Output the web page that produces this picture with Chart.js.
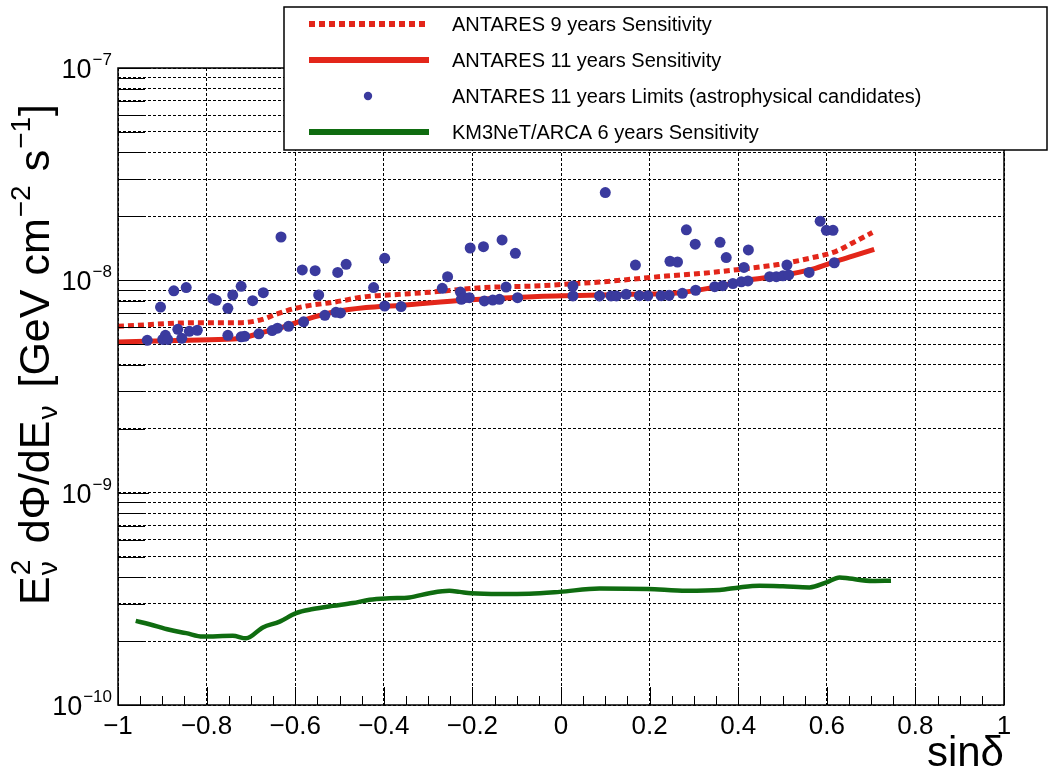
<!DOCTYPE html>
<html>
<head>
<meta charset="utf-8">
<script src="https://cdn.jsdelivr.net/npm/chart.js@4/dist/chart.umd.min.js"></script>
<style>
  html, body { margin: 0; padding: 0; background: #fff; }
  #wrap { position: relative; width: 1053px; height: 771px; }
</style>
</head>
<body>
<div id="wrap"><canvas id="sensChart"></canvas></div>
<script>
// ANTARES 9 years sensitivity (dotted red)
const sens9X = [-1.0, -0.816, -0.72, -0.674, -0.643, -0.617, -0.575, -0.516, -0.44, -0.365, -0.29, -0.177, -0.064, 0.087, 0.237, 0.313, 0.418, 0.493, 0.568, 0.621, 0.658, 0.703];
const sens9Y = [6.07e-9, 6.32e-9, 6.32e-9, 6.55e-9, 6.92e-9, 7.22e-9, 7.57e-9, 7.87e-9, 8.38e-9, 8.59e-9, 8.81e-9, 9.24e-9, 9.40e-9, 9.82e-9, 1.047e-8, 1.076e-8, 1.135e-8, 1.19e-8, 1.28e-8, 1.37e-8, 1.50e-8, 1.68e-8];

// ANTARES 11 years sensitivity (solid red)
const sens11X = [-1.0, -0.816, -0.726, -0.681, -0.62, -0.575, -0.516, -0.44, -0.365, -0.214, -0.064, 0.161, 0.268, 0.342, 0.418, 0.493, 0.568, 0.621, 0.658, 0.707];
const sens11Y = [5.13e-9, 5.24e-9, 5.32e-9, 5.63e-9, 6.09e-9, 6.55e-9, 7.07e-9, 7.44e-9, 7.62e-9, 8.08e-9, 8.38e-9, 8.59e-9, 8.75e-9, 9.24e-9, 1.0e-8, 1.05e-8, 1.13e-8, 1.23e-8, 1.30e-8, 1.40e-8];

// ANTARES 11 years limits for the astrophysical candidates
const srcX = [-0.934, -0.904, -0.899, -0.893, -0.888, -0.874, -0.865, -0.856, -0.846, -0.839,
              -0.821, -0.786, -0.778, -0.752, -0.752, -0.741, -0.722, -0.722, -0.714, -0.696,
              -0.682, -0.672, -0.652, -0.640, -0.632, -0.615, -0.584, -0.581, -0.555, -0.547,
              -0.533, -0.508, -0.504, -0.498, -0.485, -0.423, -0.398, -0.398, -0.361, -0.268,
              -0.256, -0.227, -0.225, -0.218, -0.207, -0.205, -0.175, -0.173, -0.154, -0.139,
              -0.133, -0.124, -0.103, -0.098, 0.027, 0.027, 0.087, 0.100, 0.113, 0.125,
              0.147, 0.168, 0.177, 0.196, 0.226, 0.244, 0.246, 0.263, 0.274, 0.283,
              0.303, 0.304, 0.347, 0.359, 0.365, 0.373, 0.388, 0.407, 0.413, 0.422,
              0.423, 0.471, 0.486, 0.501, 0.510, 0.514, 0.560, 0.585, 0.599, 0.614, 0.617];
const srcY = [5.22e-9, 7.48e-9, 5.27e-9, 5.51e-9, 5.27e-9, 8.93e-9, 5.88e-9, 5.33e-9, 9.24e-9, 5.75e-9,
              5.82e-9, 8.21e-9, 8.05e-9, 7.38e-9, 5.51e-9, 8.52e-9, 9.37e-9, 5.42e-9, 5.45e-9, 8.02e-9,
              5.60e-9, 8.75e-9, 5.80e-9, 5.95e-9, 1.60e-8, 6.07e-9, 1.12e-8, 6.38e-9, 1.11e-8, 8.53e-9,
              6.84e-9, 7.07e-9, 1.09e-8, 7.02e-9, 1.19e-8, 9.24e-9, 1.27e-8, 7.57e-9, 7.52e-9, 9.17e-9,
              1.04e-8, 8.81e-9, 8.14e-9, 8.29e-9, 8.29e-9, 1.42e-8, 1.44e-8, 8.00e-9, 8.07e-9, 8.14e-9,
              1.55e-8, 9.29e-9, 1.34e-8, 8.29e-9, 9.40e-9, 8.44e-9, 8.44e-9, 2.59e-8, 8.44e-9, 8.44e-9,
              8.59e-9, 1.18e-8, 8.47e-9, 8.47e-9, 8.47e-9, 8.50e-9, 1.23e-8, 1.22e-8, 8.69e-9, 1.73e-8,
              1.48e-8, 8.98e-9, 9.33e-9, 1.51e-8, 9.44e-9, 1.28e-8, 9.66e-9, 9.84e-9, 1.15e-8, 9.93e-9,
              1.39e-8, 1.04e-8, 1.04e-8, 1.05e-8, 1.18e-8, 1.06e-8, 1.09e-8, 1.90e-8, 1.72e-8, 1.72e-8, 1.21e-8];

// KM3NeT/ARCA 6 years sensitivity (green)
const arcaX = [-0.960, -0.929, -0.884, -0.846, -0.809, -0.741, -0.711, -0.673, -0.635, -0.598,
               -0.560, -0.515, -0.470, -0.432, -0.387, -0.342, -0.297, -0.252, -0.229, -0.203,
               -0.139, -0.071, -0.003, 0.087, 0.196, 0.283, 0.358, 0.403, 0.448, 0.501,
               0.561, 0.599, 0.629, 0.651, 0.704, 0.745];
const arcaY = [2.49e-10, 2.40e-10, 2.26e-10, 2.18e-10, 2.10e-10, 2.12e-10, 2.06e-10, 2.32e-10, 2.47e-10, 2.71e-10,
               2.83e-10, 2.93e-10, 3.02e-10, 3.13e-10, 3.18e-10, 3.21e-10, 3.36e-10, 3.45e-10, 3.41e-10, 3.36e-10,
               3.33e-10, 3.34e-10, 3.41e-10, 3.54e-10, 3.52e-10, 3.45e-10, 3.48e-10, 3.58e-10, 3.64e-10, 3.62e-10,
               3.58e-10, 3.78e-10, 3.99e-10, 3.94e-10, 3.84e-10, 3.85e-10];

// axis ticks
const xTicks = [-1, -0.8, -0.6, -0.4, -0.2, 0, 0.2, 0.4, 0.6, 0.8, 1];
const yDecades = [1e-10, 1e-9, 1e-8, 1e-7];

const RED = '#e3261a';
const BLUE = '#3a3a9e';
const GREEN = '#0f6c10';
const FONT = '"Liberation Sans", Arial, Helvetica, sans-serif';

function toXY(xs, ys) {
    return xs.map((x, i) => ({ x: x, y: ys[i] }));
}

function fmtX(v) {
    if (v === 0) return '0';
    return (v < 0 ? '\u2212' : '') + String(Math.abs(v));
}

// y tick positions: 1..9 x each decade
function logTicks() {
    const out = [];
    for (let d = 0; d < yDecades.length - 1; d++) {
        for (let m = 1; m <= 9; m++) out.push(m * yDecades[d]);
    }
    out.push(yDecades[yDecades.length - 1]);
    return out;
}

// draws a run of text pieces, left to right from x0
function drawRich(ctx, pieces, x0, y0) {
    let x = x0;
    pieces.forEach(p => {
        ctx.font = p.size + 'px ' + FONT;
        const w = ctx.measureText(p.t).width;
        ctx.fillText(p.t, x, y0 + (p.dy || 0));
        if (!p.stack) x += w + (p.gap || 0);
    });
    return x - x0;
}

const rootStyle = {
    id: 'rootStyle',
    afterDatasetsDraw(chart) {
        const { ctx, chartArea: a, scales: { x, y } } = chart;
        ctx.save();
        ctx.strokeStyle = '#000';
        ctx.lineWidth = 1;
        ctx.setLineDash([]);
        ctx.beginPath();
        // x ticks, inside, from the bottom
        for (let i = 0; i <= 40; i++) {
            const v = -1 + i * 0.05;
            const px = Math.round(x.getPixelForValue(v)) + 0.5;
            const len = (i % 4 === 0) ? 18 : 9;
            ctx.moveTo(px, a.bottom);
            ctx.lineTo(px, a.bottom - len);
        }
        // y ticks, inside, from the left
        logTicks().forEach(v => {
            const py = Math.round(y.getPixelForValue(v)) + 0.5;
            const m = Math.round(v / Math.pow(10, Math.floor(Math.log10(v) + 1e-9)));
            const len = m === 1 ? 31 : 27;
            ctx.moveTo(a.left, py);
            ctx.lineTo(a.left + len, py);
        });
        ctx.stroke();

        // frame
        ctx.lineWidth = 1.5;
        ctx.strokeRect(a.left, a.top, a.right - a.left, a.bottom - a.top);

        // x labels
        ctx.fillStyle = '#000';
        ctx.font = '26px ' + FONT;
        ctx.textAlign = 'center';
        ctx.textBaseline = 'alphabetic';
        xTicks.forEach(v => {
            ctx.fillText(fmtX(v), x.getPixelForValue(v), 734);
        });

        // y labels 10^n
        ctx.textAlign = 'left';
        yDecades.forEach(v => {
            const py = y.getPixelForValue(v);
            const ex = '\u2212' + String(-Math.round(Math.log10(v)));
            ctx.font = '17px ' + FONT;
            const ew = ctx.measureText(ex).width;
            ctx.font = '27px ' + FONT;
            const bw = ctx.measureText('10').width;
            const right = a.left - 6;
            ctx.fillText('10', right - ew - bw - 1, py + 10);
            ctx.font = '17px ' + FONT;
            ctx.fillText(ex, right - ew, py - 3);
        });

        // x title
        ctx.font = '42px ' + FONT;
        ctx.textAlign = 'right';
        ctx.fillText('sin\u03b4', a.right, 766);

        // y title, rotated
        ctx.save();
        ctx.translate(49, 605);
        ctx.rotate(-Math.PI / 2);
        ctx.textAlign = 'left';
        drawRich(ctx, [
            { t: 'E', size: 43, gap: 1 },
            { t: '2', size: 28, dy: -19, stack: true },
            { t: '\u03bd', size: 28, dy: 8, gap: 18 },
            { t: 'd\u03a6/dE', size: 43, gap: 1 },
            { t: '\u03bd', size: 28, dy: 8, gap: 18 },
            { t: '[GeV', size: 43, gap: 14 },
            { t: 'cm', size: 43, gap: 1 },
            { t: '\u22122', size: 28, dy: -19, gap: 14 },
            { t: 's', size: 43, gap: 1 },
            { t: '\u22121', size: 28, dy: -19, gap: 1 },
            { t: ']', size: 43 }
        ], 0, 0);
        ctx.restore();
        ctx.restore();
    },
    afterDraw(chart) {
        // legend box over the plot, ROOT style
        const { ctx } = chart;
        const ds = chart.data.datasets;
        ctx.save();
        ctx.fillStyle = '#fff';
        ctx.fillRect(284, 7, 763, 143);
        ctx.strokeStyle = '#000';
        ctx.lineWidth = 1.5;
        ctx.setLineDash([]);
        ctx.strokeRect(284, 7, 763, 143);

        const rows = [24, 60, 96, 132];
        ds.forEach((d, r) => {
            const ry = rows[r];
            if (d.showLine === false) {
                ctx.fillStyle = d.backgroundColor;
                ctx.beginPath();
                ctx.arc(368, ry, 4.2, 0, Math.PI * 2);
                ctx.fill();
            } else {
                ctx.strokeStyle = d.borderColor;
                ctx.lineWidth = 6;
                ctx.setLineDash(d.borderDash || []);
                ctx.beginPath();
                ctx.moveTo(309, ry);
                ctx.lineTo(429, ry);
                ctx.stroke();
                ctx.setLineDash([]);
            }
            ctx.fillStyle = '#000';
            ctx.font = '20px ' + FONT;
            ctx.textAlign = 'left';
            ctx.textBaseline = 'middle';
            ctx.fillText(d.label, 452, ry + 1);
        });
        ctx.restore();
    }
};

new Chart(document.getElementById('sensChart'), {
    type: 'scatter',
    data: {
        datasets: [
            {
                label: 'ANTARES 9 years Sensitivity',
                data: toXY(sens9X, sens9Y),
                showLine: true,
                borderColor: RED,
                borderWidth: 5,
                borderDash: [6, 4],
                pointRadius: 0,
                cubicInterpolationMode: 'monotone',
                order: 2
            },
            {
                label: 'ANTARES 11 years Sensitivity',
                data: toXY(sens11X, sens11Y),
                showLine: true,
                borderColor: RED,
                borderWidth: 5,
                pointRadius: 0,
                cubicInterpolationMode: 'monotone',
                order: 1
            },
            {
                label: 'ANTARES 11 years Limits (astrophysical candidates)',
                data: toXY(srcX, srcY),
                showLine: false,
                backgroundColor: BLUE,
                borderWidth: 0,
                pointRadius: 5.5,
                order: 0
            },
            {
                label: 'KM3NeT/ARCA 6 years Sensitivity',
                data: toXY(arcaX, arcaY),
                showLine: true,
                borderColor: GREEN,
                borderWidth: 4.5,
                pointRadius: 0,
                cubicInterpolationMode: 'monotone',
                order: 3
            }
        ]
    },
    options: {
        responsive: true,
        maintainAspectRatio: false,
        animation: false,
        devicePixelRatio: 1,
        layout: {
            padding: { left: 118, top: 68, right: 49, bottom: 66 }
        },
        plugins: {
            legend: { display: false },
            tooltip: { enabled: false }
        },
        scales: {
            x: {
                type: 'linear',
                min: -1,
                max: 1,
                afterBuildTicks: scale => {
                    scale.ticks = xTicks.map(v => ({ value: v }));
                },
                ticks: { display: false },
                grid: { color: '#000', lineWidth: 1, drawTicks: false },
                border: { display: false, dash: [3, 2] }
            },
            y: {
                type: 'logarithmic',
                min: yDecades[0],
                max: yDecades[yDecades.length - 1],
                afterBuildTicks: scale => {
                    scale.ticks = logTicks().map(v => ({ value: v }));
                },
                ticks: { display: false },
                grid: { color: '#000', lineWidth: 1, drawTicks: false },
                border: { display: false, dash: [3, 2] }
            }
        }
    },
    plugins: [rootStyle]
});
</script>
</body>
</html>
